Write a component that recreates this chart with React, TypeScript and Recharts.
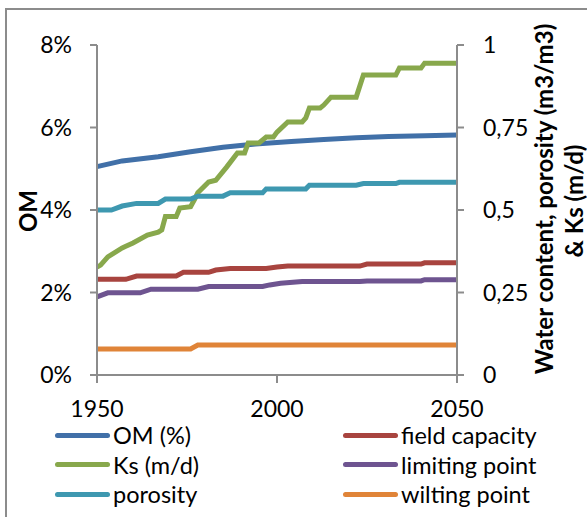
import React from 'react';
import { LineChart, Line, XAxis, YAxis } from 'recharts';

// breakpoints, year -> value
const omYears = [1950, 1957, 1967, 1976, 1985, 1994, 2004, 2013, 2022, 2031, 2041, 2050];
const omValues = [5.05, 5.19, 5.29, 5.41, 5.52, 5.6, 5.66, 5.71, 5.75, 5.78, 5.8, 5.82];

const ksYears = [1950, 1951, 1953, 1957, 1958, 1960, 1964, 1967, 1968, 1969, 1972, 1973, 1976, 1977, 1978, 1981, 1983, 1986, 1989, 1991, 1992, 1995, 1997, 1999, 2000, 2003, 2007, 2008, 2009, 2012, 2013, 2015, 2022, 2024, 2033, 2034, 2040, 2041, 2050];
const ksValues = [0.327, 0.333, 0.358, 0.385, 0.39, 0.4, 0.424, 0.433, 0.44, 0.48, 0.48, 0.506, 0.51, 0.53, 0.552, 0.585, 0.59, 0.63, 0.673, 0.673, 0.703, 0.703, 0.721, 0.721, 0.736, 0.767, 0.767, 0.779, 0.809, 0.809, 0.818, 0.842, 0.842, 0.909, 0.909, 0.93, 0.93, 0.945, 0.945];

const porosityYears = [1950, 1954, 1957, 1961, 1967, 1969, 1976, 1978, 1985, 1987, 1996, 1997, 2008, 2009, 2022, 2024, 2033, 2034, 2050];
const porosityValues = [0.5, 0.5, 0.512, 0.52, 0.52, 0.533, 0.533, 0.542, 0.542, 0.552, 0.552, 0.564, 0.564, 0.575, 0.575, 0.58, 0.58, 0.584, 0.584];

const fieldYears = [1950, 1958, 1961, 1972, 1974, 1981, 1983, 1987, 1997, 2000, 2003, 2023, 2025, 2040, 2041, 2050];
const fieldValues = [0.29, 0.29, 0.3, 0.3, 0.311, 0.311, 0.318, 0.323, 0.323, 0.327, 0.33, 0.33, 0.336, 0.336, 0.34, 0.34];

const limitingYears = [1950, 1953, 1962, 1965, 1978, 1981, 1996, 1998, 2001, 2007, 2023, 2025, 2040, 2041, 2050];
const limitingValues = [0.237, 0.249, 0.249, 0.26, 0.26, 0.268, 0.268, 0.273, 0.278, 0.283, 0.283, 0.285, 0.285, 0.289, 0.289];

const wiltingYears = [1950, 1976, 1978, 2050];
const wiltingValues = [0.079, 0.079, 0.091, 0.091];

const xTicks = [1950, 2000, 2050];
const omTicks = [0, 2, 4, 6, 8];
const waterTicks = [0, 0.25, 0.5, 0.75, 1];

const toRows = (years: number[], values: number[]) =>
  years.map((year, i) => ({ year, value: values[i] }));

const series = [
  { name: 'OM (%)', color: '#4170a8', axis: 'om', data: toRows(omYears, omValues) },
  { name: 'field capacity', color: '#a8443f', axis: 'water', data: toRows(fieldYears, fieldValues) },
  { name: 'Ks (m/d)', color: '#88a84c', axis: 'water', data: toRows(ksYears, ksValues) },
  { name: 'limiting point', color: '#6e5490', axis: 'water', data: toRows(limitingYears, limitingValues) },
  { name: 'porosity', color: '#3e98b0', axis: 'water', data: toRows(porosityYears, porosityValues) },
  { name: 'wilting point', color: '#e08438', axis: 'water', data: toRows(wiltingYears, wiltingValues) },
];

const FONT = 'Lato, "Liberation Sans", sans-serif';
const AXIS = '#8c8c8c';
const tickStyle = { fontSize: 23, fill: '#000', fontFamily: FONT };

const legendRows = [
  [series[0], series[1]],
  [series[2], series[3]],
  [series[4], series[5]],
];

export default function App() {
  return (
    <div style={{ position: 'absolute', left: 0, top: 0, width: 587, height: 517, overflow: 'hidden', background: '#fff', fontFamily: FONT }}>
      <div style={{ position: 'absolute', left: 5, top: 8, width: 700, height: 700, border: `2px solid ${AXIS}` }} />
      <div style={{ position: 'absolute', left: 0, top: 0 }}>
        <LineChart width={587} height={517} margin={{ top: 45, right: 0, bottom: 0, left: 0 }}>
          <XAxis
            dataKey="year"
            type="number"
            domain={[1950, 2050]}
            ticks={xTicks}
            allowDuplicatedCategory={false}
            height={142}
            tickSize={8}
            tickMargin={18}
            stroke={AXIS}
            strokeWidth={2}
            tick={tickStyle}
          />
          <YAxis
            yAxisId="om"
            orientation="left"
            domain={[0, 8]}
            ticks={omTicks}
            width={97}
            tickSize={7}
            tickMargin={18}
            stroke={AXIS}
            strokeWidth={2}
            tick={tickStyle}
            tickFormatter={(v: number) => `${v}%`}
            label={{
              content: () => (
                <text x={27} y={211} transform="rotate(-90 27 211)" textAnchor="middle" dominantBaseline="central"
                  style={{ fontSize: 24, fontWeight: 700, fontFamily: FONT }} fill="#000">OM</text>
              ),
            }}
          />
          <YAxis
            yAxisId="water"
            orientation="right"
            domain={[0, 1]}
            ticks={waterTicks}
            width={130}
            tickSize={7}
            tickMargin={19}
            stroke={AXIS}
            strokeWidth={2}
            tick={tickStyle}
            tickFormatter={(v: number) => String(v).replace('.', ',')}
            label={{
              content: () => (
                <g style={{ fontSize: 24, fontWeight: 700, fontFamily: FONT }} fill="#000">
                  <text x={543} y={199} transform="rotate(-90 543 199)" textAnchor="middle" dominantBaseline="central">
                    Water content, porosity (m3/m3)
                  </text>
                  <text x={573} y={201} transform="rotate(-90 573 201)" textAnchor="middle" dominantBaseline="central">
                    &amp; Ks (m/d)
                  </text>
                </g>
              ),
            }}
          />
          {series.map(s => (
            <Line
              key={s.name}
              yAxisId={s.axis}
              data={s.data}
              dataKey="value"
              name={s.name}
              type="linear"
              stroke={s.color}
              strokeWidth={5}
              dot={false}
              isAnimationActive={false}
            />
          ))}
        </LineChart>
      </div>
      {legendRows.map((row, r) => (
        row.map((s, c) => (
          <div key={s.name} style={{ position: 'absolute', left: c === 0 ? 55 : 343, top: 435 + r * 29.6 - 12, height: 24, display: 'flex', alignItems: 'center' }}>
            <div style={{ width: 55, height: 5, borderRadius: 3, background: s.color }} />
            <span style={{ marginLeft: 3, fontSize: 23.5, color: '#000', lineHeight: '24px' }}>{s.name}</span>
          </div>
        ))
      ))}
    </div>
  );
}
